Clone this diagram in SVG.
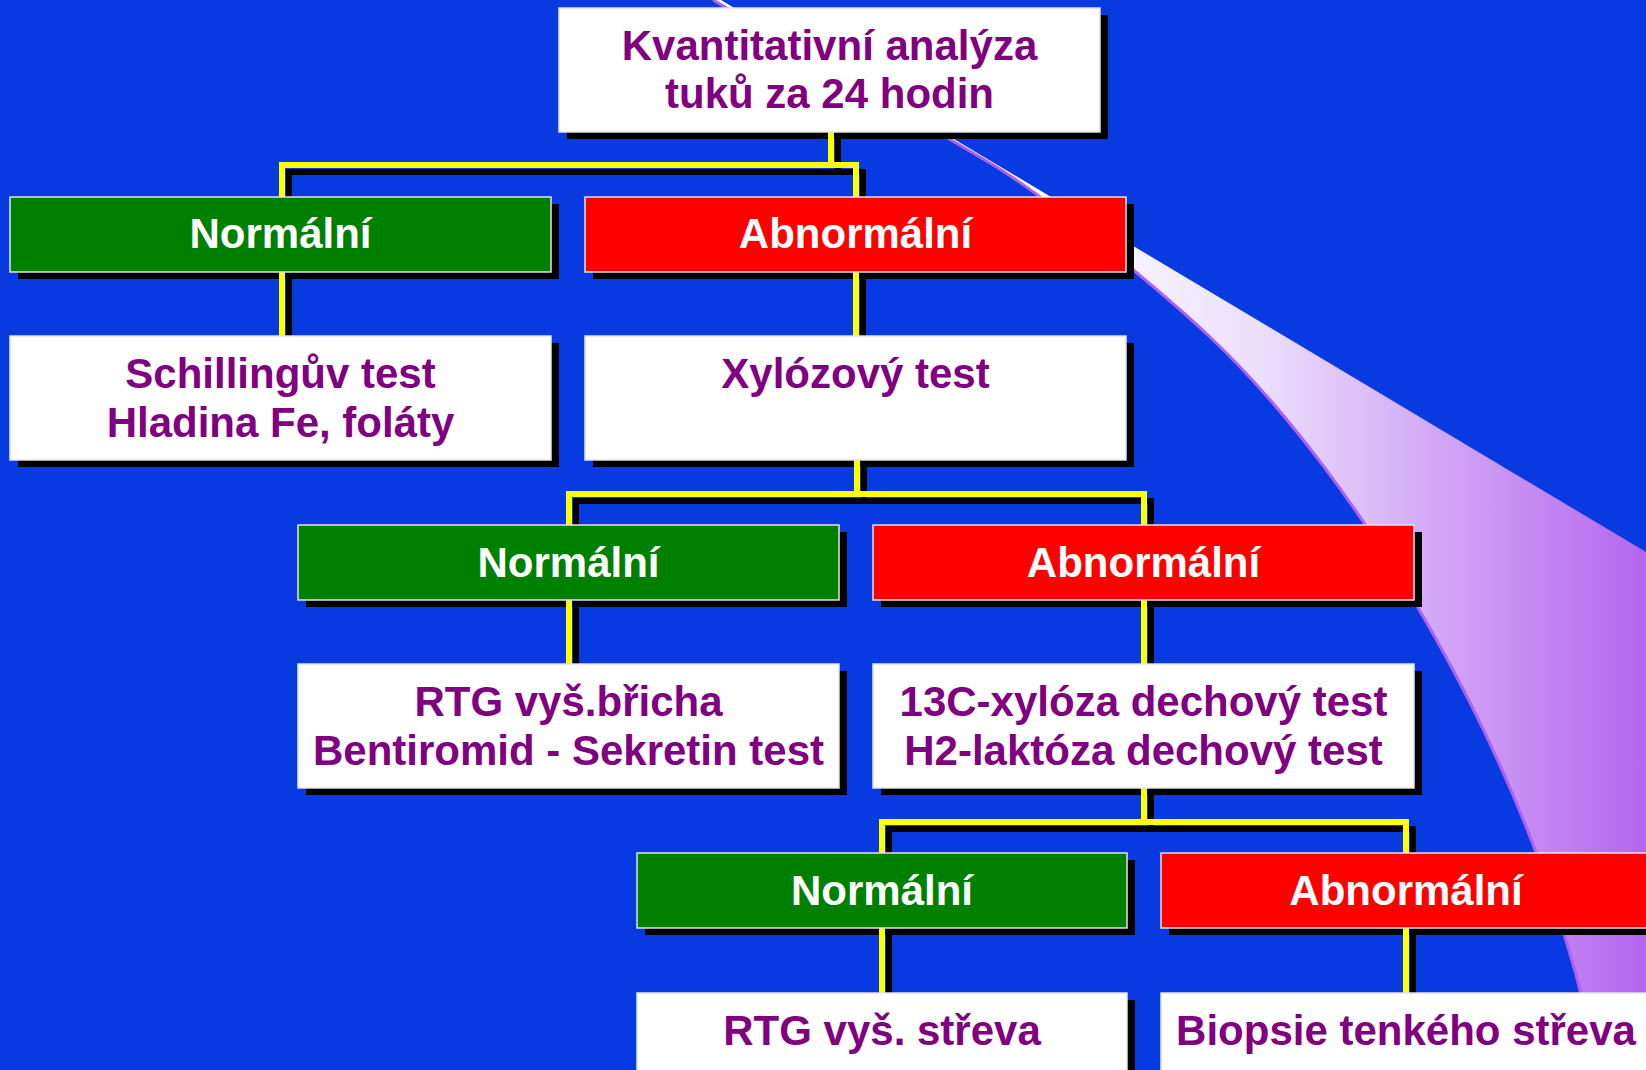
<svg xmlns="http://www.w3.org/2000/svg" width="1646" height="1070" viewBox="0 0 1646 1070">
<defs>
<linearGradient id="sw" gradientUnits="userSpaceOnUse" x1="1050" y1="0" x2="1646" y2="0">
<stop offset="0" stop-color="#ffffff"/>
<stop offset="0.35" stop-color="#ebdffb"/>
<stop offset="1" stop-color="#b566f0"/>
</linearGradient>
<style>
.sh{fill:#000}
.bx{stroke:#e4e4e4;stroke-width:1.5}
.w{fill:#ffffff}
.g{fill:#008000}
.r{fill:#ff0000}
.t{font-family:"Liberation Sans",Arial,sans-serif;font-weight:bold;font-size:42px;text-anchor:middle}
.tw{fill:#ffffff}
.tp{fill:#800080}
.cs{fill:none;stroke:#000;stroke-width:6;stroke-linejoin:miter}
.cy{fill:none;stroke:#ffff00;stroke-width:6;stroke-linejoin:miter}
</style>
</defs>
<rect x="0" y="0" width="1646" height="1070" fill="#073ae1"/>
<g id="swoosh">
<path d="M713,0 L721,0 L1646,552 L1646,1070 L1598,1070 C1540,760 1350,469 1210,337 C1160,290 1050,199 990,163 Z" fill="url(#sw)"/>
<path d="M713,0 L990,163 C1050,199 1160,290 1210,337 C1350,469 1540,760 1598,1070" fill="none" stroke="#b060f0" stroke-width="3"/>
</g>
<g id="shadows">
<rect class="sh" x="567" y="15" width="541" height="124"/>
<rect class="sh" x="18" y="204" width="541" height="75"/>
<rect class="sh" x="593" y="204" width="541" height="75"/>
<rect class="sh" x="18" y="343" width="541" height="124"/>
<rect class="sh" x="593" y="343" width="541" height="124"/>
<rect class="sh" x="306" y="532" width="541" height="75"/>
<rect class="sh" x="881" y="532" width="541" height="75"/>
<rect class="sh" x="306" y="671" width="541" height="124"/>
<rect class="sh" x="881" y="671" width="541" height="124"/>
<rect class="sh" x="645" y="860" width="490" height="75"/>
<rect class="sh" x="1169" y="860" width="490" height="75"/>
<rect class="sh" x="645" y="1000" width="490" height="124"/>
<rect class="sh" x="1169" y="1000" width="490" height="124"/>
</g>
<g id="connectors">
<g transform="translate(7,7)">
<path class="cs" d="M831,132 V165 M282,197 V165 H856 V197"/>
<path class="cs" d="M282,272 V336"/>
<path class="cs" d="M856,272 V336"/>
<path class="cs" d="M857,460 V494 M569,525 V494 H1144 V525"/>
<path class="cs" d="M569,600 V664"/>
<path class="cs" d="M1144,600 V664"/>
<path class="cs" d="M1144,788 V822 M882,853 V822 H1406 V853"/>
<path class="cs" d="M882,928 V993"/>
<path class="cs" d="M1406,928 V993"/>
</g>
<path class="cy" d="M831,132 V165 M282,197 V165 H856 V197"/>
<path class="cy" d="M282,272 V336"/>
<path class="cy" d="M856,272 V336"/>
<path class="cy" d="M857,460 V494 M569,525 V494 H1144 V525"/>
<path class="cy" d="M569,600 V664"/>
<path class="cy" d="M1144,600 V664"/>
<path class="cy" d="M1144,788 V822 M882,853 V822 H1406 V853"/>
<path class="cy" d="M882,928 V993"/>
<path class="cy" d="M1406,928 V993"/>
</g>
<g id="n-top">
<rect class="bx w" x="559" y="8" width="541" height="124"/>
<text class="t tp" x="829.5" y="60">Kvantitativní analýza</text>
<text class="t tp" x="829.5" y="108">tuků za 24 hodin</text>
</g>
<g id="n-normal1">
<rect class="bx g" x="10" y="197" width="541" height="75"/>
<text class="t tw" x="280.5" y="248">Normální</text>
</g>
<g id="n-abnormal1">
<rect class="bx r" x="585" y="197" width="541" height="75"/>
<text class="t tw" x="855.5" y="248">Abnormální</text>
</g>
<g id="n-schilling">
<rect class="bx w" x="10" y="336" width="541" height="124"/>
<text class="t tp" x="280.5" y="388">Schillingův test</text>
<text class="t tp" x="280.5" y="437">Hladina Fe, foláty</text>
</g>
<g id="n-xyloza">
<rect class="bx w" x="585" y="336" width="541" height="124"/>
<text class="t tp" x="855.5" y="388">Xylózový test</text>
</g>
<g id="n-normal2">
<rect class="bx g" x="298" y="525" width="541" height="75"/>
<text class="t tw" x="568.5" y="577">Normální</text>
</g>
<g id="n-abnormal2">
<rect class="bx r" x="873" y="525" width="541" height="75"/>
<text class="t tw" x="1143.5" y="577">Abnormální</text>
</g>
<g id="n-rtg-bricha">
<rect class="bx w" x="298" y="664" width="541" height="124"/>
<text class="t tp" x="568.5" y="716">RTG vyš.břicha</text>
<text class="t tp" x="568.5" y="765">Bentiromid - Sekretin test</text>
</g>
<g id="n-dechove">
<rect class="bx w" x="873" y="664" width="541" height="124"/>
<text class="t tp" x="1143.5" y="716">13C-xylóza dechový test</text>
<text class="t tp" x="1143.5" y="765">H2-laktóza dechový test</text>
</g>
<g id="n-normal3">
<rect class="bx g" x="637" y="853" width="490" height="75"/>
<text class="t tw" x="882" y="905">Normální</text>
</g>
<g id="n-abnormal3">
<rect class="bx r" x="1161" y="853" width="490" height="75"/>
<text class="t tw" x="1406" y="905">Abnormální</text>
</g>
<g id="n-rtg-streva">
<rect class="bx w" x="637" y="993" width="490" height="124"/>
<text class="t tp" x="882" y="1045">RTG vyš. střeva</text>
</g>
<g id="n-biopsie">
<rect class="bx w" x="1161" y="993" width="490" height="124"/>
<text class="t tp" x="1406" y="1045">Biopsie tenkého střeva</text>
</g>
</svg>
